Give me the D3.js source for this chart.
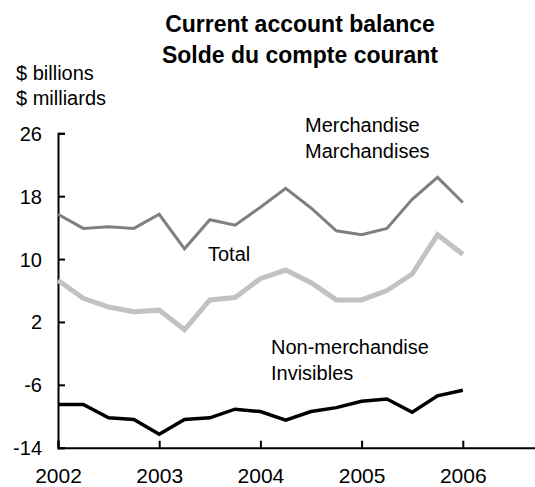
<!DOCTYPE html>
<html>
<head>
<meta charset="utf-8">
<script src="https://cdn.jsdelivr.net/npm/d3@7"></script>
<style>
  html, body { margin: 0; padding: 0; background: #fff; }
  svg { display: block; font-family: "Liberation Sans", Arial, Helvetica, sans-serif; }
</style>
</head>
<body>
<svg id="chart" width="535" height="487"></svg>
<script>
// Quarterly periods 2002Q1 .. 2006Q1
const periods = [2002, 2002.25, 2002.5, 2002.75, 2003, 2003.25, 2003.5, 2003.75,
                 2004, 2004.25, 2004.5, 2004.75, 2005, 2005.25, 2005.5, 2005.75, 2006];
const merchandise = [15.7, 13.9, 14.1, 13.9, 15.7, 11.3, 15.0, 14.3,
                     16.6, 19.0, 16.5, 13.6, 13.1, 13.9, 17.6, 20.4, 17.2];
const total = [7.3, 5.0, 3.9, 3.3, 3.5, 1.0, 4.8, 5.1,
               7.5, 8.6, 7.0, 4.8, 4.8, 6.0, 8.1, 13.1, 10.6];
const nonMerchandise = [-8.5, -8.5, -10.2, -10.4, -12.3, -10.4, -10.2, -9.1,
                        -9.4, -10.5, -9.4, -8.9, -8.1, -7.8, -9.5, -7.4, -6.7];
const yTicks = [26, 18, 10, 2, -6, -14];
const xTicks = [2002, 2003, 2004, 2005, 2006];
const titleLines = ["Current account balance", "Solde du compte courant"];
const unitLines = ["$ billions", "$ milliards"];

const svg = d3.select("#chart");
const x = d3.scaleLinear().domain([2002, 2006.75]).range([58, 538.7]);
const y = d3.scaleLinear().domain([-14, 26]).range([447.7, 133.3]);

// Title
svg.append("g").selectAll("text").data(titleLines).join("text")
  .attr("x", 300).attr("y", (d, i) => 31.5 + i * 31)
  .attr("text-anchor", "middle")
  .attr("font-size", 23).attr("font-weight", "bold")
  .text(d => d);

// Units
svg.append("g").selectAll("text").data(unitLines).join("text")
  .attr("x", 16).attr("y", (d, i) => 80 + i * 25)
  .attr("font-size", 20)
  .text(d => d);

// Y axis
const yAxis = svg.append("g").attr("transform", `translate(${x(2002)},0)`)
  .call(d3.axisLeft(y).tickValues(yTicks).tickSize(-7).tickPadding(16).tickFormat(d => String(d)));
yAxis.select(".domain").attr("stroke", "#000").attr("stroke-width", 2);
yAxis.selectAll(".tick line").attr("stroke", "#000").attr("stroke-width", 2);
yAxis.selectAll(".tick text").attr("font-size", 20).attr("fill", "#000")
  .attr("font-family", "Liberation Sans, Arial, sans-serif").attr("dy", "0.35em");

// X axis
const xAxis = svg.append("g").attr("transform", `translate(0,${y(-14)})`)
  .call(d3.axisBottom(x).tickValues(xTicks).tickSize(-7).tickPadding(20).tickFormat(d => String(d)));
xAxis.select(".domain").attr("stroke", "#000").attr("stroke-width", 2);
xAxis.selectAll(".tick line").attr("stroke", "#000").attr("stroke-width", 2);
xAxis.selectAll(".tick text").attr("font-size", 21).attr("fill", "#000")
  .attr("font-family", "Liberation Sans, Arial, sans-serif");

// Lines
const line = d3.line().x((d, i) => x(periods[i])).y(d => y(d));
const series = [
  { values: total, color: "#c2c2c2", width: 5 },
  { values: merchandise, color: "#7f7f7f", width: 3 },
  { values: nonMerchandise, color: "#000000", width: 3.5 }
];
svg.append("g").selectAll("path").data(series).join("path")
  .attr("d", d => line(d.values))
  .attr("fill", "none")
  .attr("stroke", d => d.color)
  .attr("stroke-width", d => d.width)
  .attr("stroke-linejoin", "miter");

// Series labels
const labels = [
  { lines: ["Merchandise", "Marchandises"], x: 305, y: 132 },
  { lines: ["Total"], x: 208, y: 261 },
  { lines: ["Non-merchandise", "Invisibles"], x: 271, y: 354 }
];
labels.forEach(l => {
  svg.append("g").selectAll("text").data(l.lines).join("text")
    .attr("x", l.x).attr("y", (d, i) => l.y + i * 25.5)
    .attr("font-size", 20)
    .text(d => d);
});
</script>
</body>
</html>
